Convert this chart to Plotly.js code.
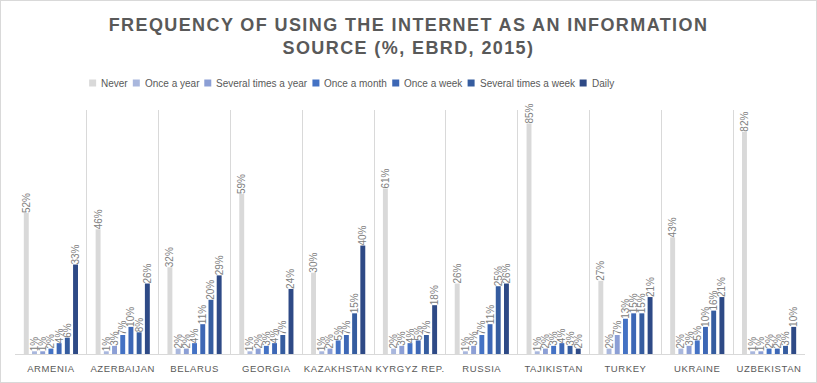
<!DOCTYPE html>
<html>
<head>
<meta charset="utf-8">
<script src="https://cdn.plot.ly/plotly-3.0.1.min.js"></script>
<style>
html,body{margin:0;padding:0;background:#fff;}
#chart{width:817px;height:383px;box-sizing:border-box;border:1px solid #d9d9d9;}
#chart .xtick text{letter-spacing:0.6px;}
#chart .gtitle{letter-spacing:1.4px;}
</style>
</head>
<body>
<div id="chart"></div>
<script>
const countries = ["ARMENIA","AZERBAIJAN","BELARUS","GEORGIA","KAZAKHSTAN","KYRGYZ REP.","RUSSIA","TAJIKISTAN","TURKEY","UKRAINE","UZBEKISTAN"];
const seriesNames = ["Never","Once a year","Several times a year","Once a month","Once a week","Several times a week","Daily"];
const never            = [52,46,32,59,30,61,26,85,27,43,82];
const onceAYear        = [1,1,2,1,1,2,1,1,2,2,1];
const severalTimesYear = [1,3,2,2,2,3,3,2,7,3,1];
const onceAMonth       = [2,7,4,3,5,4,7,3,13,5,2];
const onceAWeek        = [4,10,11,4,7,5,11,4,15,10,2];
const severalTimesWeek = [6,8,20,7,15,7,25,3,15,16,3];
const daily            = [33,26,29,24,40,18,26,2,21,21,10];
const colors = ["#d9d9d9","#a9b7dd","#8c9fd5","#4472c4","#3d67b5","#355c9f","#2e4a86"];

const seriesValues = [never,onceAYear,severalTimesYear,onceAMonth,onceAWeek,severalTimesWeek,daily];

// layout geometry (page pixels)
const W = 815, H = 381, ML = 14, MR = 11, MT = 109, MB = 28;
const plotW = W - ML - MR, plotH = H - MT - MB;
const px2x = px => (px - 1 - ML) / plotW;
const py2y = py => (H - MB - (py - 1)) / plotH;

// manual legend (swatch + text), laid out from measured text widths
const legendFontFamily = "Liberation Sans, Arial, sans-serif";
const legendFontSize = 10;
const legendCenterX = 351, legendY = 83, sw = 7, swGap = 4, itemGap = 6;
const ctx = document.createElement('canvas').getContext('2d');
ctx.font = legendFontSize + "px 'Liberation Sans', Arial, sans-serif";
const textW = seriesNames.map(n => ctx.measureText(n).width);
const itemW = textW.map(w => sw + swGap + w);
const totalW = itemW.reduce((a,b)=>a+b,0) + itemGap*(seriesNames.length-1);
let cursor = legendCenterX - totalW/2;
const swatchX = itemW.map(w => { const s = cursor; cursor += w + itemGap; return s; });

const traces = seriesValues.map((vals,i)=>({
  type:'bar',
  name:seriesNames[i],
  x:countries,
  y:vals,
  marker:{color:colors[i]},
  texttemplate:'%{y}%',
  textposition:'outside',
  textangle:-90,
  constraintext:'none',
  cliponaxis:false,
  textfont:{family:"Liberation Sans, Arial, sans-serif",size:10,color:'#808080'},
  hoverinfo:'skip',
  showlegend:false
}));

const shapes = seriesNames.map((n,i)=>({
  type:'rect', xref:'paper', yref:'paper',
  x0:px2x(swatchX[i]), x1:px2x(swatchX[i]+sw),
  y0:py2y(legendY+sw/2), y1:py2y(legendY-sw/2),
  fillcolor:colors[i], line:{width:0}
}));
const annotations = seriesNames.map((n,i)=>({
  text:n, xref:'paper', yref:'paper',
  x:px2x(swatchX[i]+sw+swGap-1), y:py2y(legendY),
  xanchor:'left', yanchor:'middle', showarrow:false,
  font:{family:legendFontFamily,size:legendFontSize,color:'#595959'}
}));

const layout = {
  width:W, height:H,
  margin:{l:ML,r:MR,t:MT,b:MB},
  paper_bgcolor:'#fff', plot_bgcolor:'#fff',
  barmode:'group', bargap:0.2, bargroupgap:0.4,
  title:{text:'FREQUENCY OF USING THE INTERNET AS AN INFORMATION<br>SOURCE (%, EBRD, 2015)',
    font:{family:"Liberation Sans, Arial, sans-serif",size:18,color:'#595959',weight:'bold'},
    x:0.5, xanchor:'center', y:0.9225, yanchor:'top'},
  showlegend:false,
  shapes:shapes,
  annotations:annotations,
  xaxis:{type:'category',tickson:'boundaries',showgrid:true,gridcolor:'#d9d9d9',gridwidth:1,
    ticks:'',showline:true,linecolor:'#d9d9d9',tickangle:0,ticklabelstandoff:6,
    tickfont:{family:"Liberation Sans, Arial, sans-serif",size:9.5,color:'#595959'}},
  yaxis:{range:[0,90],showgrid:false,zeroline:false,showticklabels:false,ticks:''},
  hovermode:false
};

Plotly.newPlot('chart',traces,layout,{displayModeBar:false,staticPlot:true});
</script>
</body>
</html>
